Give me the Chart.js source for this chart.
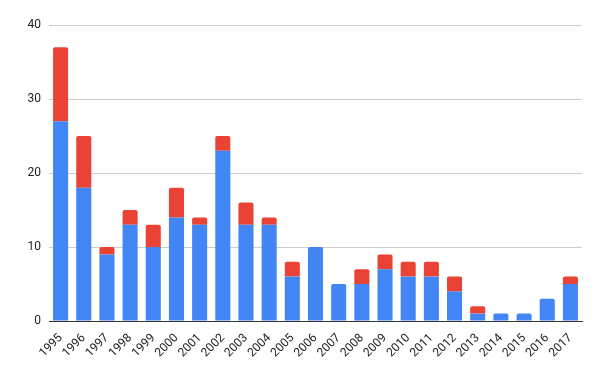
<!DOCTYPE html>
<html>
<head>
<meta charset="utf-8">
<script src="https://cdn.jsdelivr.net/npm/chart.js@4"></script>
<style>
  html, body { margin: 0; padding: 0; background: #fff; }
</style>
</head>
<body>
<canvas id="myChart" width="600" height="371"></canvas>
<script>
'use strict';

// ***** DATA *****
let years = ['1995', '1996', '1997', '1998', '1999', '2000', '2001', '2002', '2003', '2004', '2005', '2006',
  '2007', '2008', '2009', '2010', '2011', '2012', '2013', '2014', '2015', '2016', '2017'];
let blueValues = [27, 18, 9, 13, 10, 14, 13, 23, 13, 13, 6, 10, 5, 5, 7, 6, 6, 4, 1, 1, 1, 3, 5];
let redValues = [10, 7, 1, 2, 3, 4, 1, 2, 3, 1, 2, 0, 0, 2, 2, 2, 2, 2, 1, 0, 0, 0, 1];
let yTicks = [0, 10, 20, 30, 40];

let ctx = document.getElementById('myChart');

let tickFont = { family: 'Roboto, Arial, sans-serif', size: 12 };

let chartObj = {
  type: 'bar',
  data: {
    labels: years,
    datasets: [{
      label: 'blue',
      data: blueValues,
      backgroundColor: '#4285F4',
      borderRadius: 2,
      borderSkipped: 'start',
      categoryPercentage: 1,
      barPercentage: 0.65
    },
    {
      label: 'red',
      data: redValues,
      backgroundColor: '#EA4335',
      borderRadius: 2,
      borderSkipped: 'start',
      categoryPercentage: 1,
      barPercentage: 0.65
    }]
  },
  options: {
    responsive: false,
    animation: false,
    layout: {
      padding: { top: 25, right: 18, left: 0, bottom: 0 }
    },
    plugins: {
      legend: { display: false },
      tooltip: { enabled: false }
    },
    scales: {
      x: {
        stacked: true,
        grid: { display: false },
        border: { color: '#333333', width: 1 },
        ticks: {
          color: '#222222',
          font: tickFont,
          autoSkip: false,
          minRotation: 45,
          maxRotation: 45,
          padding: 2
        },
        afterFit: function(scale) { scale.height = 50; }
      },
      y: {
        stacked: true,
        min: 0,
        max: 40,
        afterBuildTicks: function(scale) {
          scale.ticks = yTicks.map(v => ({ value: v }));
        },
        grid: { color: '#cccccc', drawTicks: false },
        border: { display: false },
        ticks: {
          color: '#222222',
          font: tickFont,
          padding: 8
        },
        afterFit: function(scale) { scale.width = 49; }
      }
    }
  }
};

new Chart(ctx, chartObj);
</script>
</body>
</html>
